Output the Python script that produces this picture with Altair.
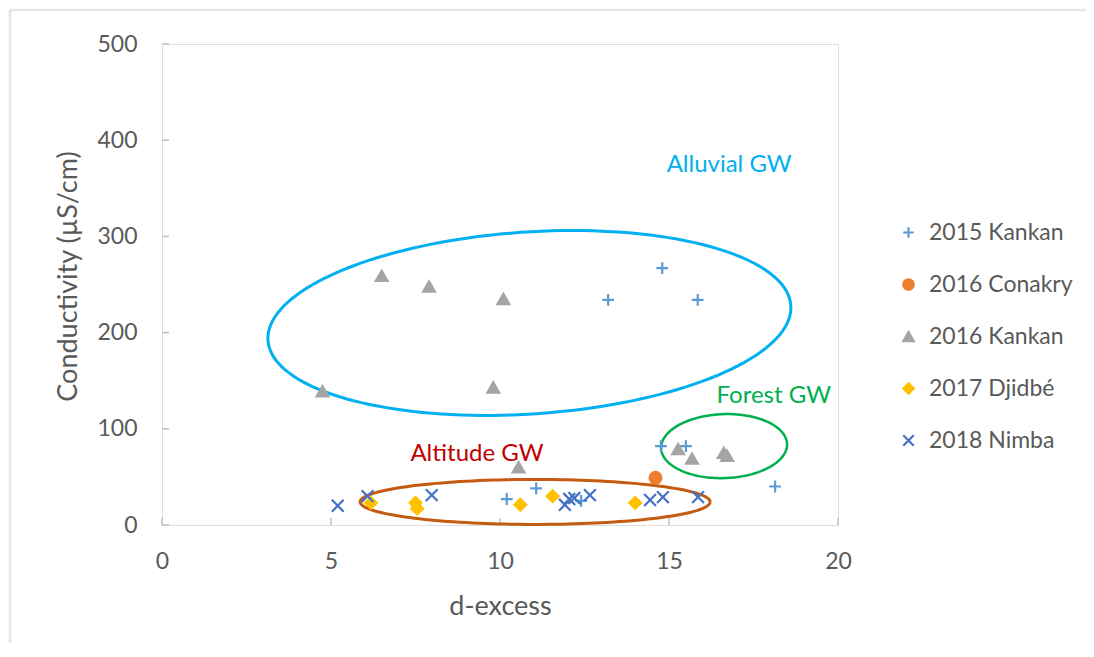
import altair as alt
import numpy as np
import pandas as pd

# ---------------- data ----------------
series_names = ["2015 Kankan", "2016 Conakry", "2016 Kankan", "2017 Djidbé", "2018 Nimba"]

kankan2015_x = [14.8, 13.2, 15.85, 14.76, 15.5, 18.14, 10.2, 11.07, 12.4]
kankan2015_y = [267, 234, 234, 82, 82, 40, 27, 38, 25]

conakry2016_x = [14.6]
conakry2016_y = [49]

kankan2016_x = [6.5, 7.9, 10.1, 4.75, 9.8, 10.55, 15.27, 15.68, 16.62, 16.72]
kankan2016_y = [259, 248, 235, 139, 143, 60, 79, 69, 75, 72]

djidbe2017_x = [6.18, 7.5, 7.55, 10.6, 11.56, 14.0]
djidbe2017_y = [23, 23, 17, 21, 30, 23]

nimba2018_x = [5.2, 6.08, 7.98, 11.92, 12.05, 12.2, 12.66, 14.44, 14.82, 15.86]
nimba2018_y = [20, 30, 31, 21, 27, 28, 31, 26, 29, 29]

x_ticks = [0, 5, 10, 15, 20]
y_ticks = [0, 100, 200, 300, 400, 500]

group_labels = ["Alluvial GW", "Forest GW", "Altitude GW"]
group_label_x = [16.78, 18.1, 9.32]
group_label_y = [374, 134, 74]
group_colors = ["#00B0F0", "#00B050", "#C00000"]

# ---------------- layout ----------------
W, H = 676, 481
X_MAX, Y_MAX = 20, 500
PX_X = W / X_MAX
PX_Y = H / Y_MAX
TEXT = "#595959"
FONT = "Lato"

rows = []
for name, xs, ys in [
    (series_names[0], kankan2015_x, kankan2015_y),
    (series_names[1], conakry2016_x, conakry2016_y),
    (series_names[2], kankan2016_x, kankan2016_y),
    (series_names[3], djidbe2017_x, djidbe2017_y),
    (series_names[4], nimba2018_x, nimba2018_y),
]:
    for xv, yv in zip(xs, ys):
        rows.append({"series": name, "x": xv, "y": yv})
pts = pd.DataFrame(rows)

xscale = alt.Scale(domain=[0, X_MAX], nice=False, zero=False)
yscale = alt.Scale(domain=[0, Y_MAX], nice=False, zero=False)


def ellipse_df(cx, cy, a_px, b_px, ang_deg, n=160):
    t = np.linspace(0, 2 * np.pi, n)
    phi = np.radians(ang_deg)
    X = a_px * np.cos(t) * np.cos(phi) - b_px * np.sin(t) * np.sin(phi)
    Y = a_px * np.cos(t) * np.sin(phi) + b_px * np.sin(t) * np.cos(phi)
    return pd.DataFrame({"x": cx + X / PX_X, "y": cy + Y / PX_Y, "o": np.arange(n)})


def ellipse_layer(df, color, width):
    return alt.Chart(df).mark_line(color=color, strokeWidth=width, clip=False).encode(
        x=alt.X("x:Q", scale=xscale),
        y=alt.Y("y:Q", scale=yscale),
        order="o:Q",
    )


ell_alluvial = ellipse_layer(ellipse_df(10.87, 210, 262, 91, 3.8), "#00B0F0", 3)
ell_forest = ellipse_layer(ellipse_df(16.63, 82, 63, 32, 2), "#00B050", 2.5)
ell_altitude = ellipse_layer(ellipse_df(11.04, 24, 175, 22.5, 0), "#C55A11", 3)

shapes = [
    "M-1,0H1M0,-1V1",
    "circle",
    "triangle-up",
    "diamond",
    "M-1,-1L1,1M-1,1L1,-1",
]
strokes = ["#5B9BD5", "#ED7D31", "#A5A5A5", "#FFC000", "#4472C4"]
fills = ["transparent", "#ED7D31", "#A5A5A5", "#FFC000", "transparent"]

legend = alt.Legend(
    orient="none", legendX=735, legendY=177, title=None,
    labelFontSize=23, labelFont=FONT, labelColor=TEXT,
    symbolSize=110, symbolStrokeWidth=2.2, rowPadding=28,
    labelOffset=9, padding=0,
)

points = alt.Chart(pts).mark_point(filled=True, size=140, strokeWidth=2.2, opacity=1).encode(
    x=alt.X("x:Q", scale=xscale, axis=alt.Axis(
        values=x_ticks, ticks=False, domain=False, grid=False, labelFlush=False,
        labelFontSize=23, labelFont=FONT, labelColor=TEXT, labelPadding=25,
        title="d-excess", titleFontSize=27, titleFont=FONT, titleColor=TEXT,
        titleFontWeight="normal", titleY=81, titleBaseline="middle")),
    y=alt.Y("y:Q", scale=yscale, axis=alt.Axis(
        values=y_ticks, ticks=False, domain=False, grid=False, labelFlush=False,
        labelFontSize=23, labelFont=FONT, labelColor=TEXT, labelPadding=25,
        title="Conductivity (µS/cm)", titleFontSize=27, titleFont=FONT, titleColor=TEXT,
        titleFontWeight="normal", titleX=-94, titleY=232, titleBaseline="middle",
        titleAlign="center")),
    shape=alt.Shape("series:N", scale=alt.Scale(domain=series_names, range=shapes), legend=legend),
    fill=alt.Fill("series:N", scale=alt.Scale(domain=series_names, range=fills), legend=legend),
    stroke=alt.Stroke("series:N", scale=alt.Scale(domain=series_names, range=strokes), legend=legend),
)

xt = pd.DataFrame({"v": x_ticks})
yt = pd.DataFrame({"v": y_ticks})
xtick_layer = alt.Chart(xt).mark_rule(color="#BFBFBF", strokeWidth=1.5).encode(
    x=alt.X("v:Q", scale=xscale), y=alt.value(H), y2=alt.value(H - 7))
ytick_layer = alt.Chart(yt).mark_rule(color="#BFBFBF", strokeWidth=1.5).encode(
    y=alt.Y("v:Q", scale=yscale), x=alt.value(0), x2=alt.value(7))

labels_df = pd.DataFrame({"x": group_label_x, "y": group_label_y,
                          "t": group_labels, "c": group_colors})
label_layer = alt.Chart(labels_df).mark_text(fontSize=24, font=FONT, align="center",
                                             baseline="middle").encode(
    x=alt.X("x:Q", scale=xscale), y=alt.Y("y:Q", scale=yscale),
    text="t:N", color=alt.Color("c:N", scale=None))

frame = pd.DataFrame({"a": [0]})
border_left = alt.Chart(frame).mark_rule(color="#E6E6E6", strokeWidth=2.5).encode(
    x=alt.value(-152), y=alt.value(-34), y2=alt.value(700))
border_top = alt.Chart(frame).mark_rule(color="#E6E6E6", strokeWidth=2.5).encode(
    x=alt.value(-152), x2=alt.value(1000), y=alt.value(-34))

chart = alt.layer(
    border_left, border_top, xtick_layer, ytick_layer, ell_alluvial, ell_forest, ell_altitude,
    points, label_layer,
).properties(
    width=W, height=H,
    autosize=alt.AutoSizeParams(type="none"),
    padding={"left": 154, "top": 36, "right": 248, "bottom": 118},
).configure_view(
    stroke="#BFBFBF", strokeWidth=1.5
).configure(background="white")

chart.save("out.html", embed_options={"renderer": "svg", "actions": False})
